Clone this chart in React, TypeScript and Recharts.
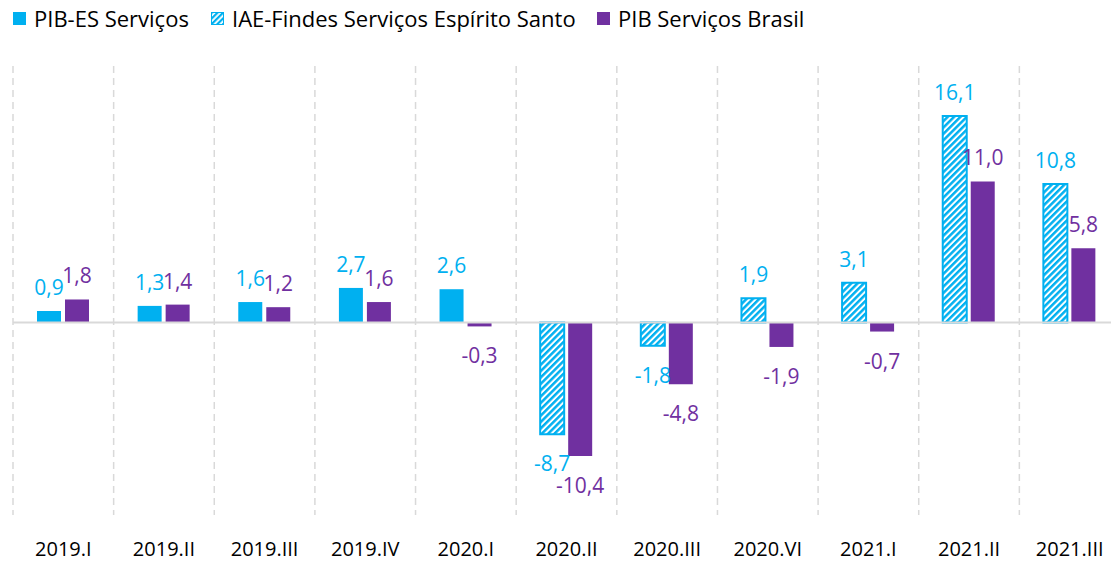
import React from 'react';
import {
  BarChart,
  Bar,
  XAxis,
  YAxis,
  CartesianGrid,
  ReferenceLine,
  LabelList,
} from 'recharts';

const categories = [
  '2019.I',
  '2019.II',
  '2019.III',
  '2019.IV',
  '2020.I',
  '2020.II',
  '2020.III',
  '2020.VI',
  '2021.I',
  '2021.II',
  '2021.III',
];

// PIB-ES Serviços (solid) only up to 2020.I, then IAE-Findes (hatched)
const pibES = [0.9, 1.3, 1.6, 2.7, 2.6, null, null, null, null, null, null];
const iaeFindes = [null, null, null, null, null, -8.7, -1.8, 1.9, 3.1, 16.1, 10.8];
const pibBrasil = [1.8, 1.4, 1.2, 1.6, -0.3, -10.4, -4.8, -1.9, -0.7, 11.0, 5.8];

const CYAN = '#00B0F0';
const PURPLE = '#7030A0';
const FONT = '"Open Sans", "Noto Sans", sans-serif';

const data = categories.map((name, i) => ({
  name,
  es: pibES[i],
  iae: iaeFindes[i],
  brasil: pibBrasil[i],
}));

const fmt = (v: number) => v.toFixed(1).replace('.', ',');

const makeLabel = (color: string) => (props: any) => {
  const { x, y, width, height, value } = props;
  if (value === null || value === undefined) return null;
  const top = Math.min(y, y + height);
  const bottom = Math.max(y, y + height);
  const cy = value >= 0 ? top - 24 : bottom + 29;
  return (
    <text
      x={x + width / 2}
      y={cy}
      fill={color}
      fontSize={21}
      fontFamily={FONT}
      textAnchor='middle'
      dominantBaseline='central'
    >
      {fmt(value)}
    </text>
  );
};

const legendItems = [
  { label: 'PIB-ES Serviços', x: 13, hatched: false, color: CYAN },
  { label: 'IAE-Findes Serviços Espírito Santo', x: 211, hatched: true, color: CYAN },
  { label: 'PIB Serviços Brasil', x: 597, hatched: false, color: PURPLE },
];

const App: React.FC = () => {
  return (
    <div
      style={{
        position: 'absolute',
        left: 0,
        top: 0,
        width: 1111,
        height: 562,
        overflow: 'hidden',
        background: '#fff',
        fontFamily: FONT,
      }}
    >
      {/* legend */}
      {legendItems.map((item) => (
        <div
          key={item.label}
          style={{
            position: 'absolute',
            left: item.x,
            top: 3,
            display: 'flex',
            alignItems: 'center',
            fontSize: 22,
            color: '#000',
            whiteSpace: 'nowrap',
          }}
        >
          <svg width={13} height={13} style={{ marginRight: 8 }}>
            {item.hatched ? (
              <>
                <rect x={0} y={0} width={13} height={13} fill='url(#legendHatch)' />
                <rect x={0.5} y={0.5} width={12} height={12} fill='none' stroke={CYAN} strokeWidth={1} />
              </>
            ) : (
              <rect x={0} y={0} width={13} height={13} fill={item.color} />
            )}
          </svg>
          {item.label}
        </div>
      ))}
      <svg width={0} height={0} style={{ position: 'absolute' }}>
        <defs>
          <pattern
            id='legendHatch'
            width={4}
            height={4}
            patternUnits='userSpaceOnUse'
            patternTransform='rotate(45)'
          >
            <rect width={4} height={4} fill='#fff' />
            <rect width={2.2} height={4} fill={CYAN} />
          </pattern>
        </defs>
      </svg>

      <BarChart
        width={1120}
        height={562}
        data={data}
        margin={{ top: 66, right: 0, left: 13, bottom: 0 }}
        barCategoryGap={24}
        barGap={4}
      >
        <defs>
          <pattern
            id='hatch'
            width={4.5}
            height={4.5}
            patternUnits='userSpaceOnUse'
            patternTransform='rotate(45)'
          >
            <rect width={4.5} height={4.5} fill='#fff' />
            <rect width={2.5} height={4.5} fill={CYAN} />
          </pattern>
        </defs>
        <CartesianGrid
          horizontal={false}
          stroke='#d9d9d9'
          strokeWidth={1.5}
          strokeDasharray='7 5'
          verticalCoordinatesGenerator={({ offset }: any) =>
            Array.from(
              { length: categories.length + 1 },
              (_, i) => offset.left + (i * offset.width) / categories.length
            )
          }
        />
        <XAxis
          dataKey='name'
          height={47}
          axisLine={false}
          tickLine={false}
          tickSize={0}
          tickMargin={27}
          interval={0}
          tick={{ fill: '#000', fontSize: 20, fontFamily: FONT, fontWeight: 400 }}
        />
        <YAxis hide domain={[-15, 20]} allowDataOverflow />
        <ReferenceLine y={0} stroke='#d9d9d9' strokeWidth={2} />
        <Bar dataKey='es' stackId='a' fill={CYAN} isAnimationActive={false}>
          <LabelList dataKey='es' content={makeLabel(CYAN)} />
        </Bar>
        <Bar
          dataKey='iae'
          stackId='a'
          fill='url(#hatch)'
          stroke={CYAN}
          strokeWidth={2}
          isAnimationActive={false}
        >
          <LabelList dataKey='iae' content={makeLabel(CYAN)} />
        </Bar>
        <Bar dataKey='brasil' fill={PURPLE} isAnimationActive={false}>
          <LabelList dataKey='brasil' content={makeLabel(PURPLE)} />
        </Bar>
      </BarChart>
    </div>
  );
};

export default App;
